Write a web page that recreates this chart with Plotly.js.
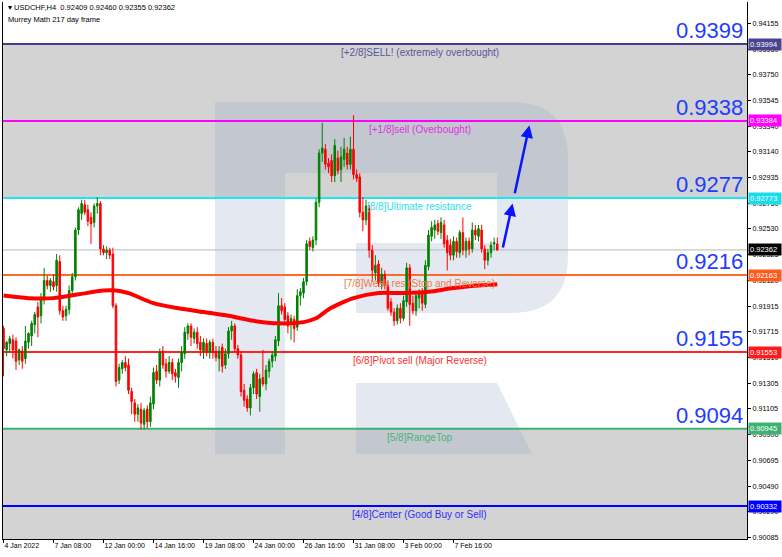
<!DOCTYPE html>
<html>
<head>
<meta charset="utf-8">
<script src="https://cdn.plot.ly/plotly-3.0.1.min.js"></script>
<style>html,body{margin:0;padding:0;background:#fff;}#chart{width:782px;height:557px;}</style>
</head>
<body>
<div id="chart"></div>
<script>
// ---- data (USDCHF H4) ----
const opens = [
0.9174,0.9157,0.9162,0.9165,0.9164,0.9149,0.9156,0.9150,0.9163,0.9168,
0.9177,0.9191,0.9184,0.9197,0.9212,0.9208,0.9211,0.9208,0.9227,0.9188,
0.9184,0.9189,0.9204,0.9215,0.9252,0.9265,0.9272,0.9268,0.9262,0.9258,
0.9271,0.9273,0.9237,0.9234,0.9236,0.9233,0.9192,0.9133,0.9142,0.9147,
0.9145,0.9124,0.9115,0.9106,0.9110,0.9098,0.9110,0.9100,0.9114,0.9140,
0.9133,0.9156,0.9146,0.9140,0.9147,0.9139,0.9135,0.9147,0.9154,0.9170,
0.9176,0.9166,0.9171,0.9163,0.9156,0.9162,0.9155,0.9163,0.9156,0.9150,
0.9159,0.9145,0.9154,0.9172,0.9176,0.9158,0.9153,0.9125,0.9118,0.9111,
0.9127,0.9139,0.9120,0.9135,0.9130,0.9140,0.9148,0.9152,0.9164,0.9192,
0.9191,0.9184,0.9178,0.9181,0.9175,0.9200,0.9202,0.9211,0.9243,0.9238,
0.9244,0.9274,0.9313,0.9316,0.9305,0.9307,0.9295,0.9309,0.9300,0.9308,
0.9313,0.9304,0.9316,0.9296,0.9294,0.9266,0.9260,0.9269,0.9236,0.9218,
0.9225,0.9210,0.9217,0.9208,0.9195,0.9187,0.9180,0.9190,0.9182,0.9195,
0.9222,0.9194,0.9188,0.9198,0.9202,0.9193,0.9223,0.9247,0.9252,0.9257,
0.9250,0.9256,0.9244,0.9240,0.9232,0.9243,0.9234,0.9250,0.9236,0.9243,
0.9237,0.9252,0.9247,0.9252,0.9237,0.9228,0.9234,0.9241,0.92409];
const highs = [
0.9176,0.9164,0.9168,0.9169,0.9167,0.9158,0.9160,0.9176,0.9171,0.9180,
0.9187,0.9195,0.9202,0.9222,0.9216,0.9214,0.9217,0.9233,0.9232,0.9192,
0.9192,0.9208,0.9218,0.9254,0.9270,0.9276,0.9276,0.9272,0.9266,0.9273,
0.9278,0.9275,0.9240,0.9239,0.9238,0.9238,0.9194,0.9146,0.9149,0.9152,
0.9150,0.9127,0.9118,0.9114,0.9115,0.9111,0.9113,0.9120,0.9143,0.9145,
0.9158,0.9160,0.9150,0.9152,0.9150,0.9142,0.9150,0.9160,0.9175,0.9178,
0.9178,0.9174,0.9175,0.9168,0.9166,0.9166,0.9165,0.9166,0.9160,0.9160,
0.9162,0.9158,0.9175,0.9180,0.9178,0.9161,0.9156,0.9130,0.9121,0.9130,
0.9140,0.9142,0.9138,0.9157,0.9145,0.9150,0.9156,0.9168,0.9202,0.9198,
0.9194,0.9187,0.9185,0.9184,0.9205,0.9206,0.9214,0.9244,0.9246,0.9247,
0.9277,0.9316,0.9337,0.9320,0.9309,0.9312,0.9324,0.9315,0.9318,0.9325,
0.9318,0.9326,0.9343,0.9300,0.9297,0.9278,0.9276,0.9272,0.9240,0.9232,
0.9228,0.9222,0.9220,0.9212,0.9198,0.9190,0.9193,0.9194,0.9200,0.9226,
0.9225,0.9200,0.9203,0.9205,0.9206,0.9228,0.9252,0.9259,0.9260,0.9260,
0.9262,0.9260,0.9248,0.9245,0.9247,0.9246,0.9252,0.9262,0.9246,0.9246,
0.9258,0.9256,0.9256,0.9256,0.9240,0.9237,0.9243,0.9246,0.92460];
const lows = [
0.9136,0.9152,0.9155,0.9150,0.9141,0.9145,0.9142,0.9146,0.9158,0.9160,
0.9170,0.9167,0.9178,0.9193,0.9205,0.9203,0.9204,0.9203,0.9185,0.9180,
0.9180,0.9185,0.9200,0.9212,0.9248,0.9260,0.9264,0.9255,0.9241,0.9254,
0.9265,0.9232,0.9232,0.9229,0.9229,0.9190,0.9128,0.9130,0.9138,0.9140,
0.9122,0.9106,0.9100,0.9100,0.9094,0.9094,0.9095,0.9096,0.9110,0.9130,
0.9128,0.9142,0.9135,0.9138,0.9133,0.9131,0.9127,0.9140,0.9150,0.9165,
0.9160,0.9162,0.9158,0.9152,0.9150,0.9152,0.9150,0.9150,0.9148,0.9140,
0.9139,0.9142,0.9150,0.9165,0.9155,0.9150,0.9120,0.9112,0.9108,0.9105,
0.9122,0.9118,0.9108,0.9128,0.9125,0.9135,0.9143,0.9148,0.9160,0.9185,
0.9178,0.9170,0.9165,0.9163,0.9172,0.9192,0.9198,0.9208,0.9236,0.9235,
0.9240,0.9270,0.9306,0.9300,0.9297,0.9290,0.9290,0.9296,0.9290,0.9302,
0.9300,0.9300,0.9292,0.9290,0.9262,0.9251,0.9256,0.9230,0.9211,0.9212,
0.9207,0.9205,0.9205,0.9188,0.9184,0.9176,0.9177,0.9178,0.9180,0.9191,
0.9176,0.9185,0.9184,0.9190,0.9188,0.9190,0.9220,0.9243,0.9245,0.9248,
0.9245,0.9238,0.9220,0.9228,0.9228,0.9230,0.9230,0.9232,0.9230,0.9232,
0.9234,0.9244,0.9243,0.9234,0.9221,0.9224,0.9230,0.9236,0.92355];
const closes = [
0.9158,0.9163,0.9166,0.9157,0.9148,0.9157,0.9148,0.9164,0.9170,0.9178,
0.9185,0.9183,0.9198,0.9212,0.9208,0.9212,0.9207,0.9228,0.9188,0.9183,
0.9189,0.9204,0.9215,0.9252,0.9268,0.9273,0.9266,0.9259,0.9257,0.9271,
0.9273,0.9237,0.9234,0.9236,0.9232,0.9192,0.9132,0.9143,0.9147,0.9143,
0.9125,0.9116,0.9106,0.9111,0.9099,0.9109,0.9100,0.9115,0.9139,0.9133,
0.9155,0.9145,0.9140,0.9147,0.9138,0.9136,0.9147,0.9155,0.9171,0.9176,
0.9167,0.9171,0.9162,0.9157,0.9163,0.9155,0.9163,0.9155,0.9151,0.9156,
0.9144,0.9154,0.9172,0.9176,0.9158,0.9153,0.9124,0.9117,0.9111,0.9127,
0.9138,0.9122,0.9134,0.9130,0.9141,0.9148,0.9153,0.9165,0.9192,0.9188,
0.9181,0.9176,0.9182,0.9174,0.9200,0.9203,0.9211,0.9241,0.9239,0.9244,
0.9274,0.9313,0.9317,0.9304,0.9302,0.9295,0.9319,0.9299,0.9310,0.9316,
0.9304,0.9316,0.9296,0.9293,0.9266,0.9260,0.9271,0.9236,0.9220,0.9224,
0.9210,0.9217,0.9208,0.9190,0.9187,0.9180,0.9190,0.9182,0.9196,0.9222,
0.9193,0.9188,0.9200,0.9202,0.9194,0.9224,0.9248,0.9254,0.9256,0.9251,
0.9258,0.9241,0.9234,0.9232,0.9243,0.9235,0.9250,0.9236,0.9243,0.9237,
0.9252,0.9248,0.9253,0.9237,0.9228,0.9234,0.9240,0.9242,0.92362];

// moving average (thick red line), read at selected bars
const maBars   = [0, 8, 16, 24, 32, 36, 40, 48, 56, 64, 72, 80, 88, 96, 100, 104, 108, 112, 120, 128, 136, 144, 152, 158];
const maValues = [0.9200,0.9198,0.9198,0.9201,0.9204,0.9204,0.9202,0.9194,0.9190,0.9187,0.9184,0.9180,0.9178,0.9179,0.9182,0.9189,0.9194,0.9198,0.9202,0.9202,0.9203,0.9206,0.9208,0.9209];

// Murrey Math levels
const levelValues = [0.93994, 0.93384, 0.92773, 0.92163, 0.91553, 0.90945, 0.90332];
const levelNames = ["[+2/8]SELL! (extremely overbought)", "[+1/8]sell (Overbought)", "[8/8]Ultimate resistance",
  "[7/8]Weak res (Stop and Reverse)", "[6/8]Pivot sell (Major Reverse)", "[5/8]RangeTop", "[4/8]Center (Good Buy or Sell)"];
const levelTags = ["0.93994","0.93384","0.92773","0.92163","0.91553","0.90945","0.90332"];
const bigLabels = ["0.9399","0.9338","0.9277","0.9216","0.9155","0.9094"];
const currentPrice = 0.92362;
const currentTag = "0.92362";

// axes
const xTickBars = [0, 16, 32, 48, 64, 80, 96, 112, 128, 144];
const xTickLabels = ["4 Jan 2022","7 Jan 08:00","12 Jan 00:00","14 Jan 16:00","19 Jan 08:00","24 Jan 00:00","26 Jan 16:00","31 Jan 08:00","3 Feb 00:00","7 Feb 16:00"];
const yTickVals = [0.94155,0.93950,0.93750,0.93545,0.93340,0.93140,0.92935,0.92730,0.92530,0.92325,0.92120,0.91915,0.91715,0.91510,0.91305,0.91105,0.90900,0.90695,0.90490,0.90290,0.90085];
const yTickLabels = ["0.94155","0.93950","0.93750","0.93545","0.93340","0.93140","0.92935","0.92730","0.92530","0.92325","0.92120","0.91915","0.91715","0.91510","0.91305","0.91105","0.90900","0.90695","0.90490","0.90290","0.90085"];

// forecast arrows (bar index, price): tail -> head
const arrowTailBars = [159.7, 163.5];
const arrowTailPrices = [0.9237, 0.9280];
const arrowHeadBars = [162.9, 168.3];
const arrowHeadPrices = [0.9273, 0.9335];

// ---- styling ----
const FONT = "Liberation Sans, Arial, sans-serif";
const levelLineColors = ["#483d8b", "#ff00ff", "#1ee6f2", "#ff6a2a", "#ff2424", "#3cb371", "#0000ff"];
const levelTextColors = ["#5a559c", "#e030e0", "#2ee0ee", "#f07a45", "#ff3030", "#4cb27a", "#3030ff"];
const levelTagBg = ["#4a4490", "#ff00ff", "#18dcec", "#ff5a1e", "#ff1a1a", "#3cb371", "#0000ff"];
const Y_RANGE = [0.90071, 0.94327];
const X_RANGE = [-0.16, 237.92];

// plot area geometry in pixels (for decorative watermark only)
const ML = 3, MR = 35, MT = 2, MB = 18, W = 782, H = 557;
const PW = W - ML - MR, PH = H - MT - MB;
const fx = px => ((px - ML) / PW).toFixed(5);
const fy = py => ((H - MB - py) / PH).toFixed(5);
function pathOf(cmds) {
  return cmds.map(c => {
    if (c[0] === 'Z') return 'Z';
    const parts = [];
    for (let i = 1; i < c.length; i += 2) parts.push(fx(c[i]) + ',' + fy(c[i + 1]));
    return c[0] + ' ' + parts.join(' ');
  }).join(' ');
}
const wmBody = pathOf([['M',215,102],['L',511,102],['Q',568,102,568,159],['L',568,256],['Q',568,313,511,313],
  ['L',356,313],['L',356,243],['L',497,243],['L',497,173],['L',285,173],['L',285,454],['L',215,454],['Z']]);
const wmLeg = pathOf([['M',356,383],['L',497,383],['L',532,454],['L',356,454],['Z']]);

const barIndex = closes.map((_, i) => i);

const traces = [
  {
    type: 'candlestick', x: barIndex, open: opens, high: highs, low: lows, close: closes,
    increasing: {line: {color: '#008000', width: 1}, fillcolor: '#008000'},
    decreasing: {line: {color: '#ff0000', width: 1}, fillcolor: '#ff0000'},
    whiskerwidth: 0, hoverinfo: 'skip', showlegend: false
  },
  {
    type: 'scatter', mode: 'lines', x: maBars, y: maValues,
    line: {color: '#ff0000', width: 4, shape: 'spline', smoothing: 0.8},
    hoverinfo: 'skip', showlegend: false
  }
];

const shapes = [];
// grey zones
shapes.push({type:'rect', xref:'paper', x0:0, x1:1, yref:'y', y0:levelValues[2], y1:levelValues[0], fillcolor:'#d3d3d3', line:{width:0}, layer:'below'});
shapes.push({type:'rect', xref:'paper', x0:0, x1:1, yref:'y', y0:Y_RANGE[0], y1:levelValues[5], fillcolor:'#d3d3d3', line:{width:0}, layer:'below'});
// watermark
shapes.push({type:'path', xref:'paper', yref:'paper', path: wmBody, fillcolor:'rgba(147,167,199,0.25)', line:{width:0}, layer:'below'});
shapes.push({type:'path', xref:'paper', yref:'paper', path: wmLeg, fillcolor:'rgba(147,167,199,0.25)', line:{width:0}, layer:'below'});
// current price line
shapes.push({type:'line', xref:'paper', x0:0, x1:1, yref:'y', y0:currentPrice, y1:currentPrice, line:{color:'#b8b8b8', width:1}, layer:'below'});
// level lines
levelValues.forEach((v, i) => {
  shapes.push({type:'line', xref:'paper', x0:0, x1:1, yref:'y', y0:v, y1:v, line:{color:levelLineColors[i], width:2}, layer:'below'});
});

const annotations = [];
// level names
levelValues.forEach((v, i) => {
  annotations.push({xref:'paper', x:fx(420)*1, yref:'y', y:v, xanchor:'center', yanchor:'top', yshift:-1,
    text: levelNames[i], showarrow:false, font:{family:FONT, size:10, color:levelTextColors[i]}});
});
// big blue level values
bigLabels.forEach((t, i) => {
  annotations.push({xref:'paper', x:1, yref:'y', y:levelValues[i], xanchor:'right', yanchor:'bottom', xshift:-2, yshift:-1,
    text: t, showarrow:false, font:{family:FONT, size:22, color:'#1f3cff'}});
});
// price tags on axis
levelValues.forEach((v, i) => {
  annotations.push({xref:'paper', x:1, yref:'y', y:v, xanchor:'left', yanchor:'middle', xshift:1,
    text: levelTags[i], showarrow:false, bgcolor:levelTagBg[i], borderpad:1, width:30, align:'left',
    font:{family:FONT, size:7.5, color:'#ffffff'}});
});
annotations.push({xref:'paper', x:1, yref:'y', y:currentPrice, xanchor:'left', yanchor:'middle', xshift:1,
  text: currentTag, showarrow:false, bgcolor:'#000000', borderpad:1, width:30, align:'left',
  font:{family:FONT, size:7.5, color:'#ffffff'}});
// header
const last = closes.length - 1;
annotations.push({xref:'paper', yref:'paper', x:fx(6)*1, y:fy(8)*1, xanchor:'left', yanchor:'middle', showarrow:false,
  text: '\u25BE\u00a0USDCHF,H4\u00a0\u00a0' + [opens[last], highs[last], lows[last], closes[last]].map(v => v.toFixed(5)).join('\u00a0'),
  font:{family:FONT, size:7.5, color:'#000'}});
annotations.push({xref:'paper', yref:'paper', x:fx(6)*1, y:fy(19)*1, xanchor:'left', yanchor:'middle', showarrow:false,
  text: 'Murrey Math 217 day frame', font:{family:FONT, size:7.5, color:'#000'}});
// forecast arrows
arrowTailBars.forEach((tb, i) => {
  annotations.push({x:arrowHeadBars[i], y:arrowHeadPrices[i], xref:'x', yref:'y', ax:tb, ay:arrowTailPrices[i], axref:'x', ayref:'y',
    text:'', showarrow:true, arrowhead:2, arrowsize:1, arrowwidth:2.5, arrowcolor:'#0a14ff', standoff:0});
});

const layout = {
  width: W, height: H,
  margin: {l: ML, r: MR, t: MT, b: MB, pad: 0},
  paper_bgcolor: '#ffffff', plot_bgcolor: '#ffffff',
  showlegend: false,
  font: {family: FONT, size: 7.5, color: '#000'},
  xaxis: {
    range: X_RANGE, autorange: false, rangeslider: {visible: false},
    tickmode: 'array', tickvals: xTickBars, ticktext: xTickLabels,
    ticks: 'outside', ticklen: 3, tickcolor: '#000', tickwidth: 1,
    ticklabelposition: 'outside right',
    tickfont: {family: FONT, size: 7, color: '#000'},
    showgrid: false, zeroline: false, showline: true, linecolor: '#000', linewidth: 1,
    fixedrange: true
  },
  yaxis: {
    side: 'right', range: Y_RANGE, autorange: false,
    tickmode: 'array', tickvals: yTickVals, ticktext: yTickLabels,
    ticks: 'outside', ticklen: 3, tickcolor: '#000', tickwidth: 1,
    tickfont: {family: FONT, size: 7.2, color: '#000'},
    showgrid: false, zeroline: false, showline: true, mirror: true, linecolor: '#000', linewidth: 1,
    fixedrange: true
  },
  shapes: shapes,
  annotations: annotations
};

Plotly.newPlot('chart', traces, layout, {displayModeBar: false, staticPlot: true});
</script>
</body>
</html>
